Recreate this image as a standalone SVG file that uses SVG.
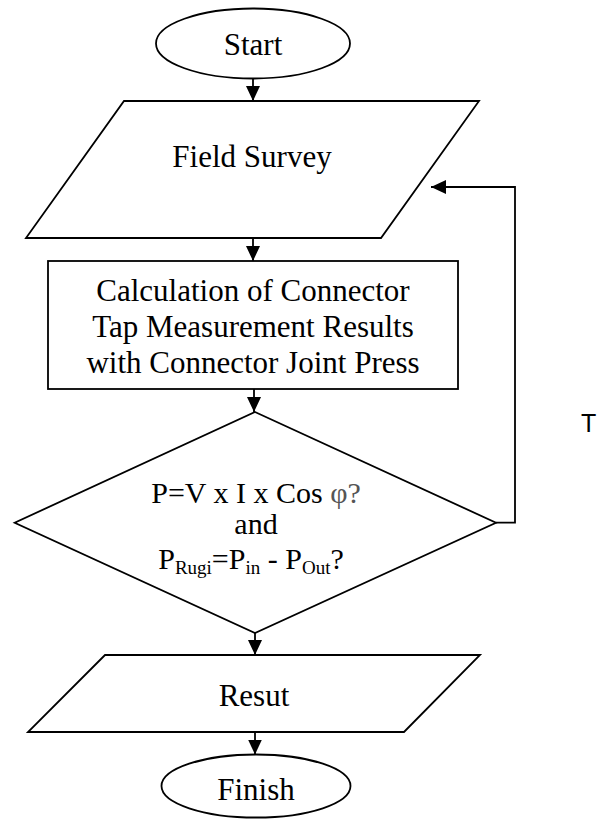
<svg xmlns="http://www.w3.org/2000/svg" width="605" height="822" viewBox="0 0 605 822">
  <style>
    .shape { fill: #ffffff; stroke: #000000; stroke-width: 1.8; }
    .lbl { font-family: "Liberation Serif", "Times New Roman", serif; font-size: 31px; fill: #000000; text-anchor: middle; }
    .cond { font-family: "Liberation Serif", "Times New Roman", serif; font-size: 30px; fill: #000000; }
    .sub { font-size: 19px; }
    .greek { fill: #555555; }
    .edge { fill: none; stroke: #000000; stroke-width: 1.8; }
    .side { font-family: "Liberation Sans", Arial, sans-serif; font-size: 25px; fill: #000000; }
  </style>
  <defs>
    <marker id="arrow" viewBox="0 0 15 14" refX="15" refY="7" markerWidth="15" markerHeight="14" markerUnits="userSpaceOnUse" orient="auto">
      <path d="M0,0 L15,7 L0,14 Z" fill="#000000"/>
    </marker>
  </defs>

  <!-- connectors -->
  <g id="connectors">
    <line class="edge" x1="253" y1="78.5" x2="253" y2="101" marker-end="url(#arrow)"/>
    <line class="edge" x1="253" y1="238" x2="253" y2="261" marker-end="url(#arrow)"/>
    <line class="edge" x1="254" y1="389" x2="254" y2="412" marker-end="url(#arrow)"/>
    <line class="edge" x1="255" y1="633" x2="255" y2="655" marker-end="url(#arrow)"/>
    <line class="edge" x1="255" y1="732" x2="255" y2="754.5" marker-end="url(#arrow)"/>
    <polyline class="edge" points="496,522.7 515,522.7 515,187 431,187" marker-end="url(#arrow)"/>
  </g>

  <!-- start terminal -->
  <g id="start">
    <ellipse class="shape" cx="253" cy="43.5" rx="97" ry="35"/>
    <text class="lbl" x="253" y="55">Start</text>
  </g>

  <!-- field survey input -->
  <g id="field-survey">
    <polygon class="shape" points="124,101 479,101 381,238 26,238"/>
    <text class="lbl" x="252" y="167">Field Survey</text>
  </g>

  <!-- calculation process -->
  <g id="calculation">
    <rect class="shape" x="48" y="261" width="410" height="128"/>
    <text class="lbl" x="253" y="301">Calculation of Connector</text>
    <text class="lbl" x="253" y="337">Tap Measurement Results</text>
    <text class="lbl" x="253" y="373">with Connector Joint Press</text>
  </g>

  <!-- decision -->
  <g id="decision">
    <polygon class="shape" points="255,412 496,522.7 255,633 14.7,522.7"/>
    <text class="cond" x="256" y="503" text-anchor="middle">P=V x I x Cos <tspan class="greek">φ?</tspan></text>
    <text class="cond" x="256" y="534" text-anchor="middle">and</text>
    <text class="cond" x="251" y="569" text-anchor="middle">P<tspan class="sub" dy="5">Rugi</tspan><tspan dy="-5">=P</tspan><tspan class="sub" dy="5">in</tspan><tspan dy="-5"> - P</tspan><tspan class="sub" dy="5">Out</tspan><tspan dy="-5">?</tspan></text>
  </g>

  <!-- result output -->
  <g id="result">
    <polygon class="shape" points="105,655 480,655 404,732 28,732"/>
    <text class="lbl" x="254" y="706">Resut</text>
  </g>

  <!-- finish terminal -->
  <g id="finish">
    <ellipse class="shape" cx="256" cy="786" rx="94.5" ry="31.5"/>
    <text class="lbl" x="256" y="800">Finish</text>
  </g>

  <text class="side" x="581" y="432">T</text>
</svg>
